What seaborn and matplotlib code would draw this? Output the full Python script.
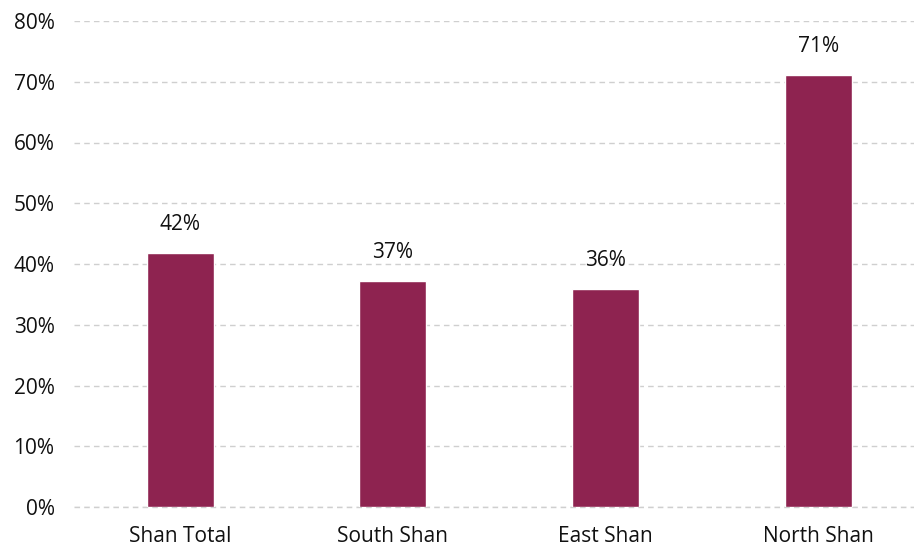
import matplotlib
matplotlib.use("Agg")
import matplotlib.pyplot as plt
import seaborn as sns
import pandas as pd

categories = ["Shan Total", "South Shan", "East Shan", "North Shan"]
values = [41.8, 37.2, 35.9, 71.1]
labels = ["42%", "37%", "36%", "71%"]
yticks = [0, 10, 20, 30, 40, 50, 60, 70, 80]

sns.set_style("white")
plt.rcParams['font.family'] = ['Open Sans', 'DejaVu Sans']

df = pd.DataFrame({"cat": categories, "val": values})
fig = plt.figure(figsize=(9.14, 5.51), dpi=100)
ax = fig.add_axes([74/914, 44/551, 1 - 74/914, (507-21)/551])
sns.barplot(data=df, x="cat", y="val", color="#8E2350", width=0.315, ax=ax, saturation=1)

ax.set_ylim(0, 80)
ax.set_xlim(-0.5, 3.45)
ax.set_yticks(yticks)
ax.set_yticklabels([f"{t}%" for t in yticks], fontsize=15, color="#111111")
ax.tick_params(axis='x', labelsize=15, colors="#111111", length=0, pad=14)
ax.tick_params(axis='y', length=0, pad=14)
ax.set_xlabel("")
ax.set_ylabel("")
ax.yaxis.grid(True, linestyle=(0, (4, 3)), color="#CFCFCF", linewidth=1)
ax.set_axisbelow(True)
for s in ax.spines.values():
    s.set_visible(False)
ax.axhline(0, color="#CFCFCF", linestyle=(0, (4, 3)), linewidth=1, zorder=0, clip_on=False)

for i, (v, l) in enumerate(zip(values, labels)):
    ax.text(i, v + 3.0, l, ha="center", va="bottom", fontsize=15, color="#111111")

fig.savefig("out.png", dpi=100)
